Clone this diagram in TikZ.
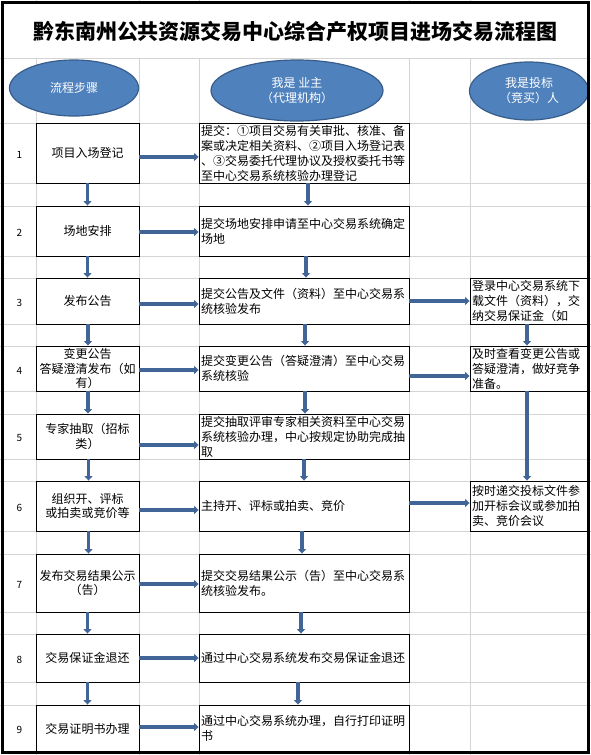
\documentclass[tikz,border=0pt]{standalone}
\usepackage{fontspec}
\setmainfont{Noto Sans CJK SC}
\usetikzlibrary{shapes.geometric,arrows.meta,calc}
\definecolor{gridgray}{RGB}{212,212,212}
\definecolor{ellfill}{RGB}{79,129,189}
\definecolor{elldraw}{RGB}{56,93,138}
\definecolor{arrowblue}{RGB}{65,101,150}
\tikzset{
 gridln/.style={draw=gridgray, line width=0.8pt},
 stepbox/.style={draw=black, line width=0.9pt, fill=white, minimum width=103pt, text width=101pt, inner xsep=1pt, inner ysep=0pt, align=center, font=\fontsize{12}{14.5}\selectfont},
 midbox/.style={draw=black, line width=0.9pt, fill=white, text width=206pt, inner xsep=2pt, inner ysep=0pt, align=left, font=\fontsize{12}{15}\selectfont},
 rbox/.style={draw=black, line width=0.9pt, fill=white, text width=114pt, inner xsep=2pt, inner ysep=0pt, align=left, font=\fontsize{12}{15}\selectfont},
 flow/.style={draw=arrowblue, line width=3.5pt, -{Triangle[length=4.5pt,width=8pt]}},
 hdr/.style={ellipse, fill=ellfill, draw=elldraw, line width=1.2pt, text=white, align=center, inner sep=0pt, font=\fontsize{12}{15}\selectfont},
 num/.style={font=\fontsize{10}{12}\selectfont, inner sep=0pt},
 titlefont/.style={font=\fontsize{21}{24}\selectfont\bfseries}
}
\begin{document}
\begin{tikzpicture}[x=1pt,y=-1pt]
\useasboundingbox (0,0) rectangle (591,755);
\fill[white] (0,0) rectangle (591,755);
% grid lines
\foreach \gx in {36,139,199,409,470} \draw[gridln] (\gx,0) -- (\gx,755);
\foreach \gy in {58,123,183,206,256,278,324,346,391,414,459,481,531,554,612,634,682,705} \draw[gridln] (0,\gy) -- (591,\gy);
\fill[white] (2,2) rectangle (589,57.6);
% title
\node[titlefont] (title) at (295.5,32) {黔东南州公共资源交易中心综合产权项目进场交易流程图};
% headers
\node[hdr, minimum width=129pt, minimum height=56pt] (h1) at (74,88) {流程步骤};
\node[hdr, minimum width=172pt, minimum height=61pt] (h2) at (297,90.5) {我是 业主\\（代理机构）};
\node[hdr, minimum width=119pt, minimum height=58pt] (h3) at (529,91) {我是投标\\（竞买）人};
% numbers
\node[num] (n1) at (19.5,155) {1};
\node[num] (n2) at (19.5,233) {2};
\node[num] (n3) at (19.5,303) {3};
\node[num] (n4) at (19.5,371) {4};
\node[num] (n5) at (19.5,438) {5};
\node[num] (n6) at (19.5,508) {6};
\node[num] (n7) at (19.5,585) {7};
\node[num] (n8) at (19.5,660) {8};
\node[num] (n9) at (19.5,730) {9};
% step boxes
\node[stepbox, minimum height=60pt] (s1) at (87.5,153) {项目入场登记};
\node[stepbox, minimum height=50pt] (s2) at (87.5,231) {场地安排};
\node[stepbox, minimum height=46pt] (s3) at (87.5,301) {发布公告};
\node[stepbox, minimum height=45pt] (s4) at (87.5,368.5) {变更公告\\答疑澄清发布（如\\有）};
\node[stepbox, minimum height=45pt] (s5) at (87.5,436.5) {专家抽取（招标\\类）};
\node[stepbox, minimum height=50pt] (s6) at (87.5,506) {组织开、评标\\或拍卖或竞价等};
\node[stepbox, minimum height=58pt] (s7) at (87.5,583) {发布交易结果公示\\（告）};
\node[stepbox, minimum height=48pt] (s8) at (87.5,658) {交易保证金退还};
\node[stepbox, minimum height=47pt] (s9) at (87.5,728.5) {交易证明书办理};
% middle boxes
\node[midbox, minimum height=60pt] (m1) at (304,153) {提交：①项目交易有关审批、核准、备\\案或决定相关资料、②项目入场登记表\\、③交易委托代理协议及授权委托书等\\至中心交易系统核验办理登记};
\node[midbox, minimum height=50pt] (m2) at (304,231) {提交场地安排申请至中心交易系统确定\\场地};
\node[midbox, minimum height=46pt] (m3) at (304,301) {提交公告及文件（资料）至中心交易系\\统核验发布};
\node[midbox, minimum height=45pt] (m4) at (304,368.5) {提交变更公告（答疑澄清）至中心交易\\系统核验};
\node[midbox, minimum height=45pt] (m5) at (304,436.5) {提交抽取评审专家相关资料至中心交易\\系统核验办理，中心按规定协助完成抽\\取};
\node[midbox, minimum height=50pt] (m6) at (304,506) {主持开、评标或拍卖、竞价};
\node[midbox, minimum height=58pt] (m7) at (304,583) {提交交易结果公示（告）至中心交易系\\统核验发布。};
\node[midbox, minimum height=48pt] (m8) at (304,658) {通过中心交易系统发布交易保证金退还};
\node[midbox, minimum height=47pt] (m9) at (304,728.5) {通过中心交易系统办理，自行打印证明\\书};
% right boxes
\node[rbox, minimum height=46pt] (r1) at (529,301) {登录中心交易系统下\\载文件（资料），交\\纳交易保证金（如};
\node[rbox, minimum height=45pt] (r2) at (529,368.5) {及时查看变更公告或\\答疑澄清，做好竞争\\准备。};
\node[rbox, minimum height=50pt] (r3) at (529,506) {按时递交投标文件参\\加开标会议或参加拍\\卖、竞价会议};
% horizontal arrows step -> middle
\draw[flow] ($(s1.east)+(0,4)$) -- ($(m1.west)+(0,4)$);
\draw[flow] ($(s2.east)+(0,1)$) -- ($(m2.west)+(0,1)$);
\draw[flow] ($(s3.east)+(0,3)$) -- ($(m3.west)+(0,3)$);
\draw[flow] ($(s4.east)+(0,1.5)$) -- ($(m4.west)+(0,1.5)$);
\draw[flow] ($(s5.east)+(0,8.5)$) -- ($(m5.west)+(0,8.5)$);
\draw[flow] ($(s6.east)+(0,4)$) -- ($(m6.west)+(0,4)$);
\draw[flow] ($(s7.east)+(0,1)$) -- ($(m7.west)+(0,1)$);
\draw[flow] (s8.east) -- (m8.west);
\draw[flow] ($(s9.east)+(0,-1.5)$) -- ($(m9.west)+(0,-1.5)$);
% middle -> right
\draw[flow] (m3.east) -- (r1.west);
\draw[flow] ($(m4.east)+(0,7.5)$) -- ($(r2.west)+(0,7.5)$);
\draw[flow] ($(m6.east)+(0,-3)$) -- ($(r3.west)+(0,-3)$);
% vertical arrows left column
\draw[flow] (s1.south) -- (s2.north);
\draw[flow] (s2.south) -- (s3.north);
\draw[flow] ($(s3.south)+(0.5,0)$) -- ($(s4.north)+(0.5,0)$);
\draw[flow] ($(s4.south)+(0.5,0)$) -- ($(s5.north)+(0.5,0)$);
\draw[flow] ($(s5.south)+(1,0)$) -- ($(s6.north)+(1,0)$);
\draw[flow] ($(s6.south)+(1,0)$) -- ($(s7.north)+(1,0)$);
\draw[flow] (s7.south) -- (s8.north);
\draw[flow] (s8.south) -- (s9.north);
% vertical arrows middle column
\draw[flow] ($(m1.south)+(4,0)$) -- ($(m2.north)+(4,0)$);
\draw[flow] ($(m2.south)+(2,0)$) -- ($(m3.north)+(2,0)$);
\draw[flow] ($(m3.south)+(1,0)$) -- ($(m4.north)+(1,0)$);
\draw[flow] ($(m4.south)+(1,0)$) -- ($(m5.north)+(1,0)$);
\draw[flow] (m5.south) -- (m6.north);
\draw[flow] ($(m6.south)+(-2,0)$) -- ($(m7.north)+(-2,0)$);
\draw[flow] ($(m7.south)+(-3,0)$) -- ($(m8.north)+(-3,0)$);
\draw[flow] ($(m8.south)+(-6,0)$) -- ($(m9.north)+(-6,0)$);
% vertical arrows right column
\draw[flow] ($(r1.south)+(-2,0)$) -- ($(r2.north)+(-2,0)$);
\draw[flow] ($(r2.south)+(-2,0)$) -- ($(r3.north)+(-2,0)$);
% outer border
\draw[black, line width=2.6pt] (2.3,2.3) rectangle (588.7,752.7);
\end{tikzpicture}
\end{document}
